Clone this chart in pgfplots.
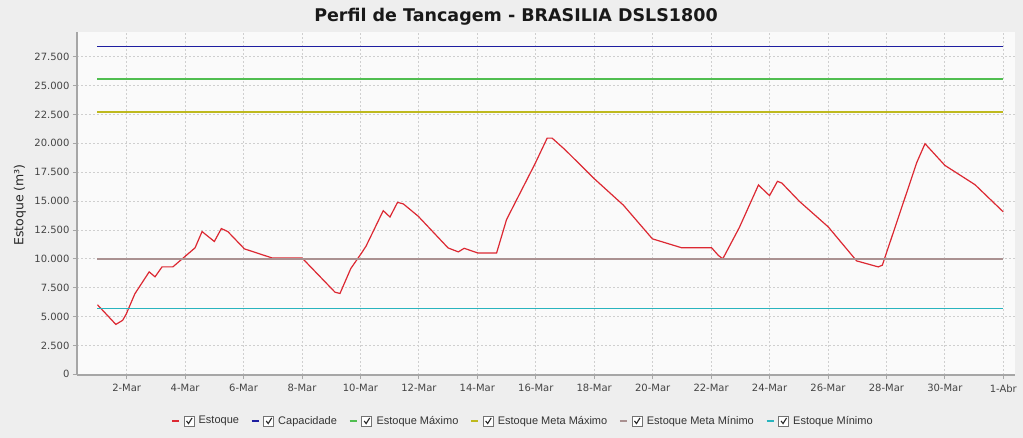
\documentclass[border=0pt]{standalone}
\usepackage{pgfplots}
\pgfplotsset{compat=1.18}
\usepackage{fontspec}
\setmainfont{DejaVu Sans}
\newfontfamily\legfont{Liberation Sans}

\definecolor{bgc}{HTML}{EEEEEE}
\definecolor{plotbg}{HTML}{FAFAFA}
\definecolor{gridc}{HTML}{CFCFCF}
\definecolor{axc}{HTML}{A6A6A6}
\definecolor{tickc}{HTML}{444444}
\definecolor{cEst}{RGB}{220,40,50}
\definecolor{cCap}{RGB}{30,30,160}
\definecolor{cMax}{RGB}{80,190,80}
\definecolor{cMetaMax}{RGB}{190,185,30}
\definecolor{cMetaMin}{RGB}{170,145,145}
\definecolor{cMin}{RGB}{40,180,190}

\begin{document}
\begin{tikzpicture}
\useasboundingbox (0,0) rectangle (1023pt,438pt);
\fill[bgc] (0,0) rectangle (1023pt,438pt);
\node[font=\bfseries\fontsize{17.5}{20}\selectfont, text=black!90] at (516pt,421pt) {Perfil de Tancagem - BRASILIA DSLS1800};
\node[rotate=90, font=\fontsize{12.5}{14}\selectfont, text=black!85] at (20pt,233pt) {Estoque (m³)};
\begin{axis}[
  at={(77pt,63pt)}, anchor=south west,
  scale only axis, width=938pt, height=343pt,
  xmin=0.3, xmax=32.4,
  ymin=-60, ymax=29640,
  axis background/.style={fill=plotbg},
  axis x line*=bottom, axis y line*=left,
  axis line style={axc, line width=2pt, -},
  xtick={2,4,...,32},
  xticklabels={2-Mar,4-Mar,6-Mar,8-Mar,10-Mar,12-Mar,14-Mar,16-Mar,18-Mar,20-Mar,22-Mar,24-Mar,26-Mar,28-Mar,30-Mar,1-Abr},
  ytick={0,2500,...,27500},
  /pgf/number format/assume math mode=true,
  yticklabel style={/pgf/number format/.cd, fixed, precision=0, 1000 sep={.}},
  scaled y ticks=false,
  ticklabel style={font=\fontsize{10}{12}\selectfont, text=tickc},
  xticklabel style={yshift=-2pt},
  tick align=outside, major tick length=4pt,
  tick style={axc, line width=0.8pt},
  grid=major,
  major grid style={gridc, dash pattern=on 2pt off 2pt, line width=0.8pt},
  legend columns=-1,
  legend style={at={(axis description cs:0.4755,-0.134)}, anchor=center, draw=none, fill=none,
    font=\legfont\fontsize{11}{13}\selectfont, text=black!80,
    /tikz/every even column/.append style={column sep=10pt}},
  legend image code/.code={
    \draw[#1, line width=1.4pt] (0pt,0pt) -- (7pt,0pt);
    \draw[black!55, fill=white, line width=0.7pt] (12pt,-5pt) rectangle (22pt,5pt);
    \draw[black!85, line width=1.1pt] (14.5pt,0pt) -- (16.5pt,-2.6pt) -- (20pt,3pt);
    \path (24pt,0pt);
  },
]
\addplot[cEst, line width=1.2pt] coordinates {
(1,6020) (1.63,4320) (1.86,4670) (1.98,5190) (2.28,6970) (2.77,8870) (2.97,8440)
(3.21,9300) (3.58,9300) (4.34,10950) (4.58,12360) (5.0,11500) (5.24,12620) (5.46,12360)
(6.03,10860) (6.97,10080) (8.0,10080) (9.13,7110) (9.30,7000) (9.67,9160) (10.04,10510)
(10.19,11090) (10.78,14170) (11.01,13620) (11.27,14890) (11.47,14750) (11.98,13680)
(13.0,10940) (13.35,10600) (13.55,10910) (14.01,10510) (14.66,10510) (15.0,13400)
(15.97,18210) (16.39,20450) (16.56,20450) (17.0,19450) (18.0,16940) (19.0,14640)
(19.99,11730) (21.0,10950) (22.02,10950) (22.25,10290) (22.40,10000) (22.97,12730)
(23.62,16390) (24.0,15470) (24.27,16710) (24.42,16560) (25.02,14980) (26.01,12760)
(26.98,9820) (27.72,9300) (27.86,9450) (29.04,18350) (29.32,19970) (30.0,18090)
(31.03,16420) (32.0,14060)
};
\addlegendentry{Estoque}
\addplot[cCap, line width=1.1pt] coordinates {(1,28400) (32,28400)};
\addlegendentry{Capacidade}
\addplot[cMax, line width=1.8pt] coordinates {(1,25570) (32,25570)};
\addlegendentry{Estoque Máximo}
\addplot[cMetaMax, line width=1.3pt] coordinates {(1,22700) (32,22700)};
\addlegendentry{Estoque Meta Máximo}
\addplot[cMetaMin, line width=1.8pt] coordinates {(1,9960) (32,9960)};
\addlegendentry{Estoque Meta Mínimo}
\addplot[cMin, line width=1.3pt] coordinates {(1,5680) (32,5680)};
\addlegendentry{Estoque Mínimo}
\end{axis}
\end{tikzpicture}
\end{document}
